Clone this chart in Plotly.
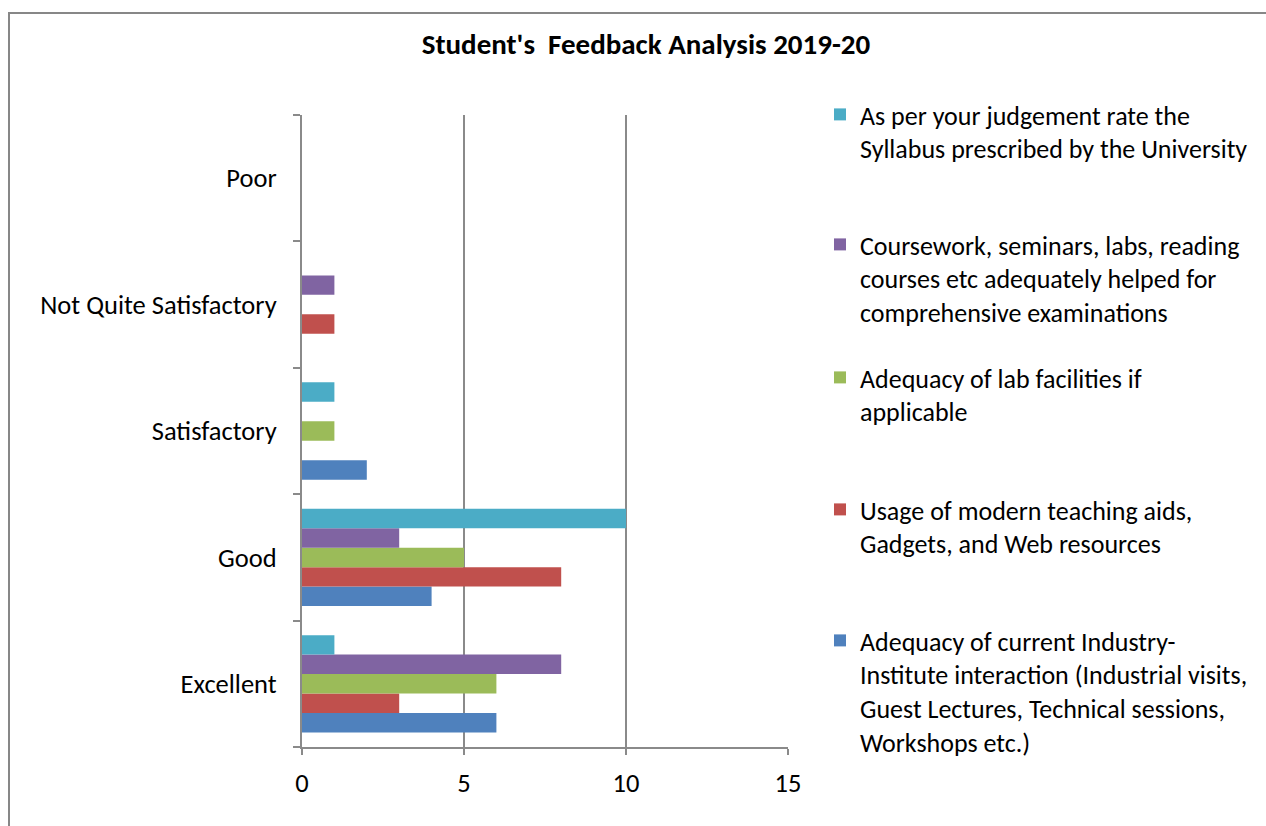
import plotly.graph_objects as go

categories = ["Excellent", "Good", "Satisfactory", "Not Quite Satisfactory", "Poor"]

series_names = [
    "Adequacy of current Industry-<br>Institute interaction (Industrial visits,<br>Guest Lectures, Technical sessions,<br>Workshops etc.)",
    "Usage of modern teaching aids,<br>Gadgets, and Web resources",
    "Adequacy of lab facilities if<br>applicable",
    "Coursework, seminars, labs, reading<br>courses etc adequately helped for<br>comprehensive examinations",
    "As per your judgement rate the<br>Syllabus prescribed by the University",
]
industry_interaction = [6, 4, 2, 0, 0]
teaching_aids = [3, 8, 0, 1, 0]
lab_facilities = [6, 5, 1, 0, 0]
coursework = [8, 3, 0, 1, 0]
syllabus = [1, 10, 1, 0, 0]
series_values = [industry_interaction, teaching_aids, lab_facilities, coursework, syllabus]
colors = ["#4F81BD", "#C0504D", "#9BBB59", "#8064A2", "#4BACC6"]
x_ticks = [0, 5, 10, 15]

FONT = "Calibri, Carlito, Lato, sans-serif"
FS = 26.5
LFS = 26
W, H = 1266, 826
L, R, T, B = 302, 788, 115, 747
pw, ph = R - L, B - T

def px_x(p):
    return (p - L) / pw

def px_y(p):
    return (B - p) / ph

# legend first-line centre positions in pixels
legend_tops = {4: 117, 3: 247, 2: 380, 1: 512, 0: 643}

fig = go.Figure()
for i, (name, vals, col) in enumerate(zip(series_names, series_values, colors)):
    lg = "legend" if i == 0 else f"legend{i+1}"
    fig.add_trace(go.Bar(
        y=categories, x=vals, name=name, orientation="h",
        marker=dict(color=col, line=dict(width=0)),
        legend=lg,
    ))

layout_legends = {}
for i in range(5):
    key = "legend" if i == 0 else f"legend{i+1}"
    layout_legends[key] = dict(
        x=px_x(820), y=px_y(legend_tops[i] - 26), xanchor="left", yanchor="top",
        font=dict(family=FONT, size=LFS, color="#000000"),
        valign="top", bgcolor="rgba(0,0,0,0)", borderwidth=0,
        itemclick=False, itemdoubleclick=False,
    )

fig.update_layout(
    width=W, height=H,
    margin=dict(l=L, r=W - R, t=T, b=H - B, pad=0),
    paper_bgcolor="white", plot_bgcolor="white",
    barmode="group", bargap=0.23, bargroupgap=0,
    title=dict(text="Student's \u00a0Feedback Analysis 2019-20",
               x=646 / W, xanchor="center", xref="container",
               y=1 - 44 / H, yanchor="middle", yref="container",
               font=dict(family=FONT, size=29, color="#000000", weight="bold")),
    font=dict(family=FONT, size=FS, color="#000000"),
    showlegend=True,
    **layout_legends,
)

fig.update_xaxes(
    range=[0, 15], tickvals=x_ticks, ticktext=[str(v) for v in x_ticks],
    showgrid=True, gridcolor="#8A8A8A", gridwidth=1.5,
    showline=True, linecolor="#8A8A8A", linewidth=2,
    ticks="outside", ticklen=6, tickcolor="#8A8A8A", tickwidth=2,
    zeroline=False, ticklabelstandoff=5,
    tickfont=dict(family=FONT, size=FS, color="#000000"),
)
fig.update_yaxes(
    type="category", categoryorder="array", categoryarray=categories,
    range=[-0.5, 4.5], tickson="boundaries",
    showgrid=False, showline=True, linecolor="#8A8A8A", linewidth=2,
    ticks="outside", ticklen=7, tickcolor="#8A8A8A", tickwidth=2,
    zeroline=False, ticklabelstandoff=18,
    tickfont=dict(family=FONT, size=FS, color="#000000"),
)

# outer chart border (partially visible frame)
fig.add_shape(type="rect", xref="paper", yref="paper",
              x0=px_x(9), x1=px_x(W + 50), y0=px_y(H + 50), y1=px_y(13),
              line=dict(color="#878787", width=2), fillcolor="rgba(0,0,0,0)",
              layer="below")

fig.write_html("out.html",
               config={"displayModeBar": False},
               post_script="document.body.style.margin='0';document.body.style.overflow='hidden';")
